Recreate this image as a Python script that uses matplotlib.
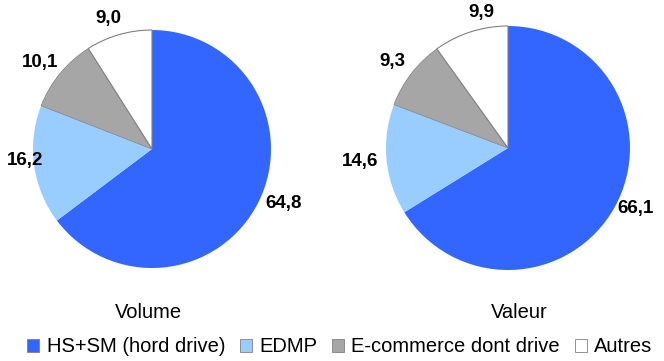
import numpy as np
import matplotlib
matplotlib.use("Agg")
import matplotlib.pyplot as plt

plt.rcParams['font.family'] = ['Liberation Sans', 'DejaVu Sans']

categories = ["HS+SM (hord drive)", "EDMP", "E-commerce dont drive", "Autres"]
volume = [64.8, 16.2, 10.1, 9.0]
valeur = [66.1, 14.6, 9.3, 9.9]
titles = ["Volume", "Valeur"]
colors = ["#3366FF", "#99CCFF", "#A6A6A6", "#FFFFFF"]

# label placement styles (radial distance factor, angular shift in degrees)
label_dist = [[1.20, 1.07, 1.185, 1.16], [1.16, 1.22, 1.18, 1.13]]
label_shift = [[4.0, -2.6, 1.7, 2.4], [3.9, -0.4, 0.7, -6.5]]

W, H = 664, 361
fig = plt.figure(figsize=(W / 100, H / 100), dpi=100)

def fmt(v):
    return f"{v:.1f}".replace(".", ",")

# (center_x, center_y, radius) in pixels
geoms = [(152, 149, 119), (508, 148, 122)]
title_pos = [(148, 313), (519, 313)]

wedges_all = None
for k, (vals, (cx, cy, r), title, (tx, ty)) in enumerate(zip([volume, valeur], geoms, titles, title_pos)):
    ax = fig.add_axes([(cx - r) / W, (H - cy - r) / H, 2 * r / W, 2 * r / H])
    wedges, texts = ax.pie(vals, colors=colors, startangle=90, counterclock=False,
                           labels=[fmt(v) for v in vals], labeldistance=1.2,
                           textprops=dict(fontsize=13.5, fontweight='bold', color='black'))
    for i, (w, t) in enumerate(zip(wedges, texts)):
        mid = np.deg2rad((w.theta1 + w.theta2) / 2 + label_shift[k][i])
        d = label_dist[k][i]
        t.set_position((d * np.cos(mid), d * np.sin(mid)))
        t.set_horizontalalignment('center')
        t.set_verticalalignment('center')
        t.set_clip_on(False)
    wedges[-1].set_edgecolor('#808080')
    wedges[-1].set_linewidth(0.8)
    wedges[2].set_edgecolor('#808080')
    wedges[2].set_linewidth(0.5)
    ax.set_xlim(-1, 1)
    ax.set_ylim(-1, 1)
    ax.set_aspect('equal')
    fig.text(tx / W, 1 - ty / H, title, ha='center', va='center', fontsize=14.5)
    wedges_all = wedges

leg = fig.legend(wedges_all, categories, loc='center', bbox_to_anchor=(340 / W, 1 - 347 / H),
                 ncol=4, frameon=False, fontsize=14.5, handlelength=0.6, handleheight=0.6,
                 handletextpad=0.35, columnspacing=0.75, borderpad=0)
for h in leg.legend_handles:
    h.set_edgecolor('#808080')
    h.set_linewidth(0.6)

fig.savefig("out.png", dpi=100)
